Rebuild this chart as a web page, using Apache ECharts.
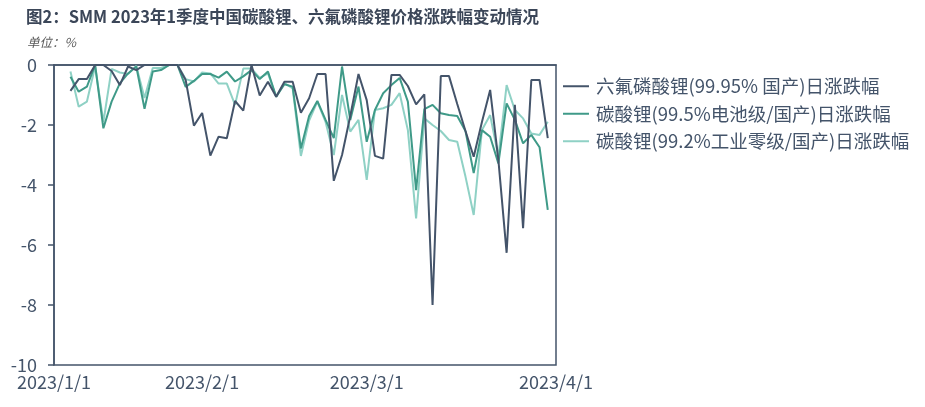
<!DOCTYPE html>
<html>
<head>
<meta charset="utf-8">
<script src="https://cdn.jsdelivr.net/npm/echarts@6/dist/echarts.min.js"></script>
<style>
html,body{margin:0;padding:0;background:#fff;}
#chart{width:925px;height:407px;}
</style>
</head>
<body>
<div id="chart"></div>
<script>
// Working-day categories (x axis)
var categories = [
  "2023/1/3","2023/1/4","2023/1/5","2023/1/6","2023/1/9","2023/1/10","2023/1/11","2023/1/12","2023/1/13",
  "2023/1/16","2023/1/17","2023/1/18","2023/1/19","2023/1/20","2023/1/28","2023/1/29","2023/1/30","2023/1/31",
  "2023/2/1","2023/2/2","2023/2/3","2023/2/6","2023/2/7","2023/2/8","2023/2/9","2023/2/10","2023/2/13",
  "2023/2/14","2023/2/15","2023/2/16","2023/2/17","2023/2/20","2023/2/21","2023/2/22","2023/2/23","2023/2/24",
  "2023/2/27","2023/2/28",
  "2023/3/1","2023/3/2","2023/3/3","2023/3/6","2023/3/7","2023/3/8","2023/3/9","2023/3/10","2023/3/13",
  "2023/3/14","2023/3/15","2023/3/16","2023/3/17","2023/3/20","2023/3/21","2023/3/22","2023/3/23","2023/3/24",
  "2023/3/27","2023/3/28","2023/3/29","2023/3/30","2023/3/31",
  "2023/4/3"
];
// tick labels shown on the x axis
var tickLabels = ["2023/1/1","2023/2/1","2023/3/1","2023/4/1"];
var yTicks = [0,-2,-4,-6,-8,-10];

var seriesNames = [
  "六氟磷酸锂(99.95% 国产)日涨跌幅",
  "碳酸锂(99.5%电池级/国产)日涨跌幅",
  "碳酸锂(99.2%工业零级/国产)日涨跌幅"
];

// values from 2023/1/5 to 2023/3/31
var lipf6 = [-0.86,-0.47,-0.47,0,0,-0.2,-0.67,-0.05,-0.17,0,
  0,0,0,0,-0.5,-2.02,-1.6,-3.02,-2.39,-2.44,
  -1.2,-1.52,0,-1.02,-0.56,-1.06,-0.56,-0.56,-1.59,-1.11,
  -0.3,-0.3,-3.86,-3.0,-1.7,-0.3,-1.17,-3.03,-3.12,-0.33,
  -0.33,-0.7,-1.31,-0.98,-8.0,-0.37,-0.37,-1.3,-2.2,-3.06,
  -1.9,-0.83,-3.17,-6.26,-1.33,-5.44,-0.5,-0.5,-2.44];
var li2co3Battery = [-0.39,-0.89,-0.72,0,-2.11,-1.22,-0.61,-0.28,-0.05,-1.46,
  -0.22,-0.17,0,0,-0.73,-0.53,-0.3,-0.3,-0.42,-0.22,
  -0.55,-0.38,-0.17,-0.47,-0.22,-1.06,-0.64,-0.72,-2.78,-1.7,
  -1.2,-1.83,-2.44,-0.05,-1.83,-0.72,-2.56,-1.5,-0.94,-0.67,
  -0.43,-1.22,-4.17,-1.47,-1.33,-1.61,-1.67,-1.7,-2.2,-3.6,
  -2.17,-2.39,-3.28,-1.28,-1.83,-2.61,-2.33,-2.74,-4.83];
var li2co3Industrial = [-0.22,-1.39,-1.22,-0.05,-1.9,-0.13,-0.25,-0.3,-0.03,-1.1,
  -0.1,-0.1,0,0,-0.47,-0.55,-0.25,-0.28,-0.62,-0.62,
  -1.33,-0.12,-0.12,-0.43,-0.28,-1.06,-0.6,-0.78,-3.03,-1.85,
  -1.22,-1.9,-3.0,-1.0,-2.22,-1.83,-3.83,-1.5,-1.44,-1.33,
  -0.94,-2.17,-5.11,-1.78,-2.0,-2.2,-2.5,-2.56,-3.72,-5.0,
  -2.17,-1.67,-3.06,-0.67,-1.5,-1.78,-2.28,-2.33,-1.89];

var dataStart = categories.indexOf("2023/1/5");
function pad(arr){
  var out = [];
  for (var i = 0; i < categories.length; i++) {
    var k = i - dataStart;
    out.push(k >= 0 && k < arr.length ? arr[k] : null);
  }
  return out;
}
function monthOf(s){ return s.split("/")[1]; }
var labelIdx = {};
var li = 0;
categories.forEach(function(c, i){
  if (i === 0 || monthOf(c) !== monthOf(categories[i-1])) { labelIdx[i] = tickLabels[li++]; }
});

var AX = '#44546a';
var FONT = '"Noto Sans CJK SC","Noto Sans",sans-serif';
var chart = echarts.init(document.getElementById('chart'), null, {renderer: 'canvas'});
chart.setOption({
  animation: false,
  backgroundColor: '#fff',
  textStyle: {fontFamily: FONT},
  title: [{
    text: '图2：SMM 2023年1季度中国碳酸锂、六氟磷酸锂价格涨跌幅变动情况',
    left: 21, top: 3,
    textStyle: {fontSize: 16.5, fontWeight: 'bold', color: '#3b4658', fontFamily: FONT}
  },{
    text: '单位：%',
    left: 22, top: 31,
    textStyle: {fontSize: 12.5, fontWeight: 'normal', fontStyle: 'italic', color: '#595959', fontFamily: FONT}
  }],
  grid: {left: 54, right: 369, top: 65, bottom: 42, show: true, borderColor: AX, borderWidth: 1.5, containLabel: false},
  legend: {
    orient: 'vertical', left: 558, top: 72,
    itemWidth: 26, itemHeight: 14, itemGap: 9,
    icon: 'path://M0,6 L26,6 L26,8 L0,8 Z',
    textStyle: {fontSize: 18.5, color: AX, fontFamily: FONT, padding: [0,0,0,2]},
    data: seriesNames
  },
  xAxis: {
    type: 'category', data: categories, boundaryGap: false,
    axisLine: {lineStyle: {color: AX, width: 1.5}},
    axisTick: {show: false},
    axisLabel: {
      interval: function(i){ return labelIdx.hasOwnProperty(i); },
      formatter: function(v, i){ return labelIdx[i] || ''; },
      fontSize: 18, color: AX, margin: 8, fontFamily: FONT,
      showMinLabel: true, showMaxLabel: true
    },
    splitLine: {show: false}
  },
  yAxis: {
    type: 'value', min: yTicks[yTicks.length-1], max: yTicks[0], interval: 2,
    axisLine: {show: true, lineStyle: {color: AX, width: 1.5}},
    axisTick: {show: true, length: 6, lineStyle: {color: AX, width: 1.5}},
    axisLabel: {fontSize: 18, color: AX, margin: 17, fontFamily: FONT},
    splitLine: {show: false}
  },
  series: [
    {name: seriesNames[0], type: 'line', data: pad(lipf6), symbol: 'none', z: 5,
     lineStyle: {color: '#44546a', width: 2}, itemStyle: {color: '#44546a'}},
    {name: seriesNames[1], type: 'line', data: pad(li2co3Battery), symbol: 'none', z: 4,
     lineStyle: {color: '#3f9a88', width: 2}, itemStyle: {color: '#3f9a88'}},
    {name: seriesNames[2], type: 'line', data: pad(li2co3Industrial), symbol: 'none', z: 3,
     lineStyle: {color: '#8fd1c5', width: 2}, itemStyle: {color: '#8fd1c5'}}
  ]
});
</script>
</body>
</html>
